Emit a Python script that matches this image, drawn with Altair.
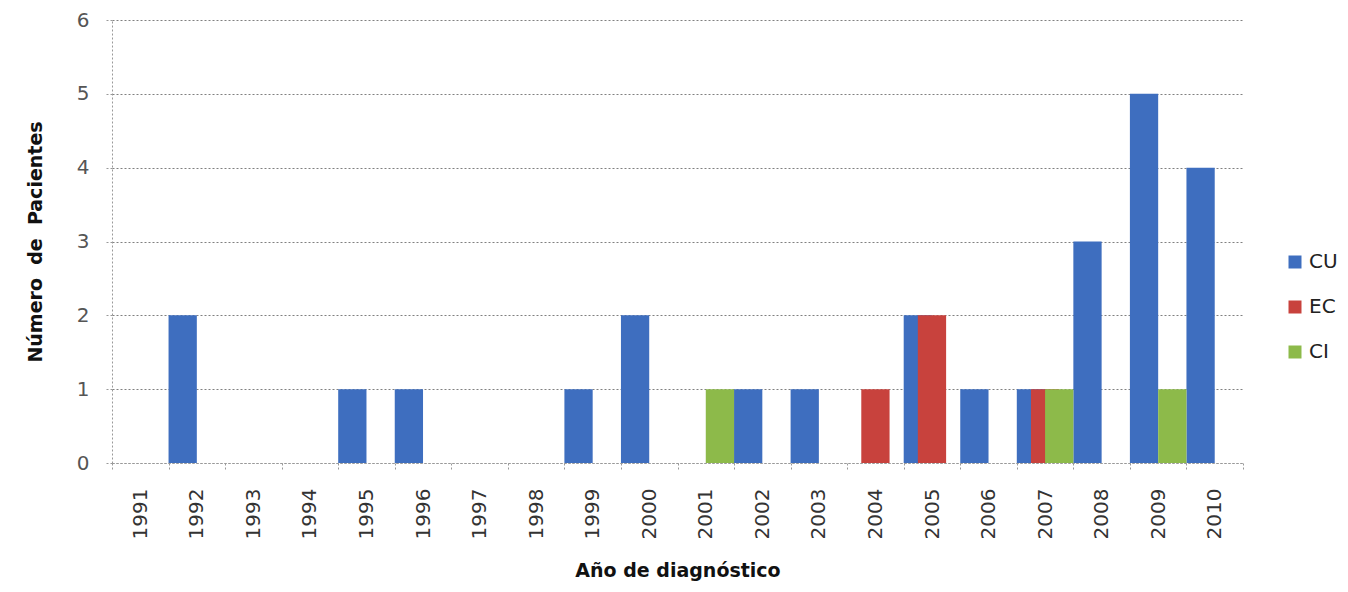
import altair as alt
import pandas as pd

years = list(range(1991, 2011))
series = ["CU", "EC", "CI"]
cu = [0, 2, 0, 0, 1, 1, 0, 0, 1, 2, 0, 1, 1, 0, 2, 1, 1, 3, 5, 4]
ec = [0, 0, 0, 0, 0, 0, 0, 0, 0, 0, 0, 0, 0, 1, 2, 0, 1, 0, 0, 0]
ci = [0, 0, 0, 0, 0, 0, 0, 0, 0, 0, 1, 0, 0, 0, 0, 0, 1, 0, 1, 0]
colors = ["#3E6EBF", "#C8423D", "#8DBA4A"]
y_ticks = [0, 1, 2, 3, 4, 5, 6]

rows = []
for s, vals in zip(series, [cu, ec, ci]):
    for yr, v in zip(years, vals):
        rows.append({"anio": yr, "serie": s, "pacientes": v})
df = pd.DataFrame(rows)

n_years = len(years)
first_year = years[0]

chart = (
    alt.Chart(df)
    .transform_filter("datum.pacientes > 0")
    .transform_calculate(
        x0=f"datum.anio - {first_year} + indexof(['CU','EC','CI'], datum.serie) * 0.25"
    )
    .transform_calculate(x1="datum.x0 + 0.5")
    .mark_bar(orient="vertical")
    .encode(
        x=alt.X(
            "x0:Q",
            scale=alt.Scale(domain=[0, n_years], nice=False, zero=False, padding=0),
            axis=alt.Axis(
                values=list(range(n_years + 1)),
                labelExpr=f"datum.value < {n_years} ? '' + ({first_year} + datum.value) : ''",
                labelAngle=270,
                labelAlign="right",
                labelBaseline="middle",
                labelOffset=28.3,
                labelPadding=17,
                labelFontSize=20,
                labelColor="#333333",
                tickSize=8,
                tickColor="#999999",
                tickDash=[2, 2],
                domainColor="#999999",
                domainDash=[2, 2],
                grid=False,
                title="Año de diagnóstico",
                titleFontSize=19,
                titleFontWeight="bold",
                titleColor="#111111",
                titlePadding=23,
            ),
        ),
        x2="x1:Q",
        y=alt.Y(
            "pacientes:Q",
            scale=alt.Scale(domain=[0, 6], nice=False, padding=0),
            axis=alt.Axis(
                values=y_ticks,
                grid=True,
                gridDash=[2, 2],
                gridColor="#808080",
                gridWidth=1,
                tickSize=8,
                tickColor="#999999",
                tickDash=[2, 2],
                domainColor="#999999",
                domainDash=[2, 2],
                labelFontSize=20,
                labelColor="#555555",
                labelPadding=15,
                title="Número \u00a0de \u00a0Pacientes",
                titleFontSize=19,
                titleFontWeight="bold",
                titleColor="#111111",
                titlePadding=31,
            ),
        ),
        y2=alt.datum(0),
        color=alt.Color(
            "serie:N",
            scale=alt.Scale(domain=series, range=colors),
            legend=alt.Legend(
                title=None,
                orient="none",
                legendX=1173,
                legendY=232,
                symbolType="square",
                symbolSize=169,
                symbolStrokeWidth=0,
                labelFontSize=20,
                labelColor="#222222",
                rowPadding=25,
                padding=0,
            ),
        ),
    )
    .properties(
        width=1131,
        height=443,
        autosize=alt.AutoSizeParams(type="none"),
        padding={"left": 104, "top": 12, "right": 96, "bottom": 121},
    )
    .configure(font="DejaVu Sans")
    .configure_view(stroke=None)
)

chart.save("out.html", embed_options={"renderer": "svg", "actions": False})
